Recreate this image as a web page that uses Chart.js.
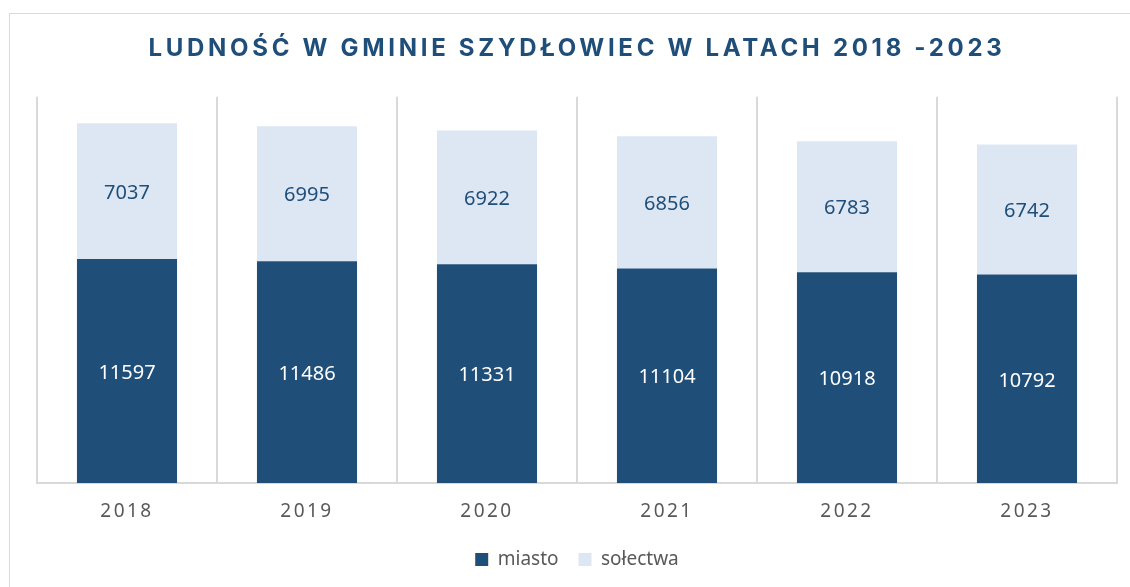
<!DOCTYPE html>
<html>
<head>
<meta charset="utf-8">
<script src="https://cdn.jsdelivr.net/npm/chart.js@4"></script>
<style>
  html, body { margin: 0; padding: 0; background: #ffffff; }
  #frame { position: absolute; left: 9px; top: 13px; width: 1140px; height: 600px; border: 1px solid #d9d9d9; box-sizing: border-box; }
  #wrap { position: absolute; left: 0; top: 0; width: 1130px; height: 587px; }
</style>
</head>
<body>
<div id="frame"></div>
<div id="wrap"><canvas id="chart" width="1130" height="587"></canvas></div>
<script>
const years = ['2018', '2019', '2020', '2021', '2022', '2023'];
const miasto = [11597, 11486, 11331, 11104, 10918, 10792];
const solectwa = [7037, 6995, 6922, 6856, 6783, 6742];

const darkBlue = '#1f4e79';
const lightBlue = '#dde7f3';

// rozstrzelony tekst dla tytułu i etykiet osi X
function spaced(chart, obj, fn, s) {
  if (!obj || obj['_spaced_' + fn]) return;
  const orig = obj[fn].bind(obj);
  obj[fn] = function (area) {
    const c = chart.ctx;
    c.save();
    c.letterSpacing = s;
    orig(area);
    c.restore();
  };
  obj['_spaced_' + fn] = true;
}

const letterSpacing = {
  id: 'letterSpacing',
  beforeDraw(chart) {
    spaced(chart, chart.titleBlock, 'draw', '3.7px');
    spaced(chart, chart.scales.x, 'drawLabels', '2.5px');
  }
};

// wartości w środku segmentów
const barLabels = {
  id: 'barLabels',
  afterDatasetsDraw(chart) {
    const ctx = chart.ctx;
    ctx.save();
    ctx.font = '20px "Noto Sans"';
    ctx.textAlign = 'center';
    ctx.textBaseline = 'middle';
    chart.data.datasets.forEach((ds, i) => {
      const meta = chart.getDatasetMeta(i);
      ctx.fillStyle = i === 0 ? '#ffffff' : darkBlue;
      meta.data.forEach((bar, j) => {
        ctx.fillText(String(ds.data[j]), bar.x, (bar.y + bar.base) / 2 + 2);
      });
    });
    ctx.restore();
  }
};

new Chart(document.getElementById('chart'), {
  type: 'bar',
  data: {
    labels: years,
    datasets: [
      { label: 'miasto', data: miasto, backgroundColor: darkBlue },
      { label: 'sołectwa', data: solectwa, backgroundColor: lightBlue }
    ]
  },
  options: {
    responsive: false,
    animation: false,
    categoryPercentage: 1,
    barPercentage: 0.556,
    layout: { padding: { left: 37, right: 13, top: 0, bottom: 8 } },
    scales: {
      x: {
        stacked: true,
        afterFit(scale) { scale.height = 47; },
        grid: { display: true, offset: true, color: '#d9d9d9', lineWidth: 2, drawTicks: false },
        border: { display: true, color: '#d9d9d9', width: 2 },
        ticks: { color: '#595959', font: { family: 'Noto Sans', size: 19 }, padding: 17.5 }
      },
      y: {
        stacked: true,
        display: false,
        min: 0,
        max: 20000
      }
    },
    plugins: {
      title: {
        display: true,
        text: 'LUDNOŚĆ W GMINIE SZYDŁOWIEC W LATACH 2018 -2023',
        color: darkBlue,
        fullSize: false,
        font: { family: 'Inter', size: 24, weight: 'bold' },
        padding: { top: 34, bottom: 34 }
      },
      legend: {
        position: 'bottom',
        fullSize: false,
        labels: {
          color: '#595959',
          font: { family: 'Noto Sans', size: 19 },
          boxWidth: 13,
          boxHeight: 13,
          padding: 20
        }
      },
      tooltip: { enabled: false }
    }
  },
  plugins: [letterSpacing, barLabels]
});
</script>
</body>
</html>
